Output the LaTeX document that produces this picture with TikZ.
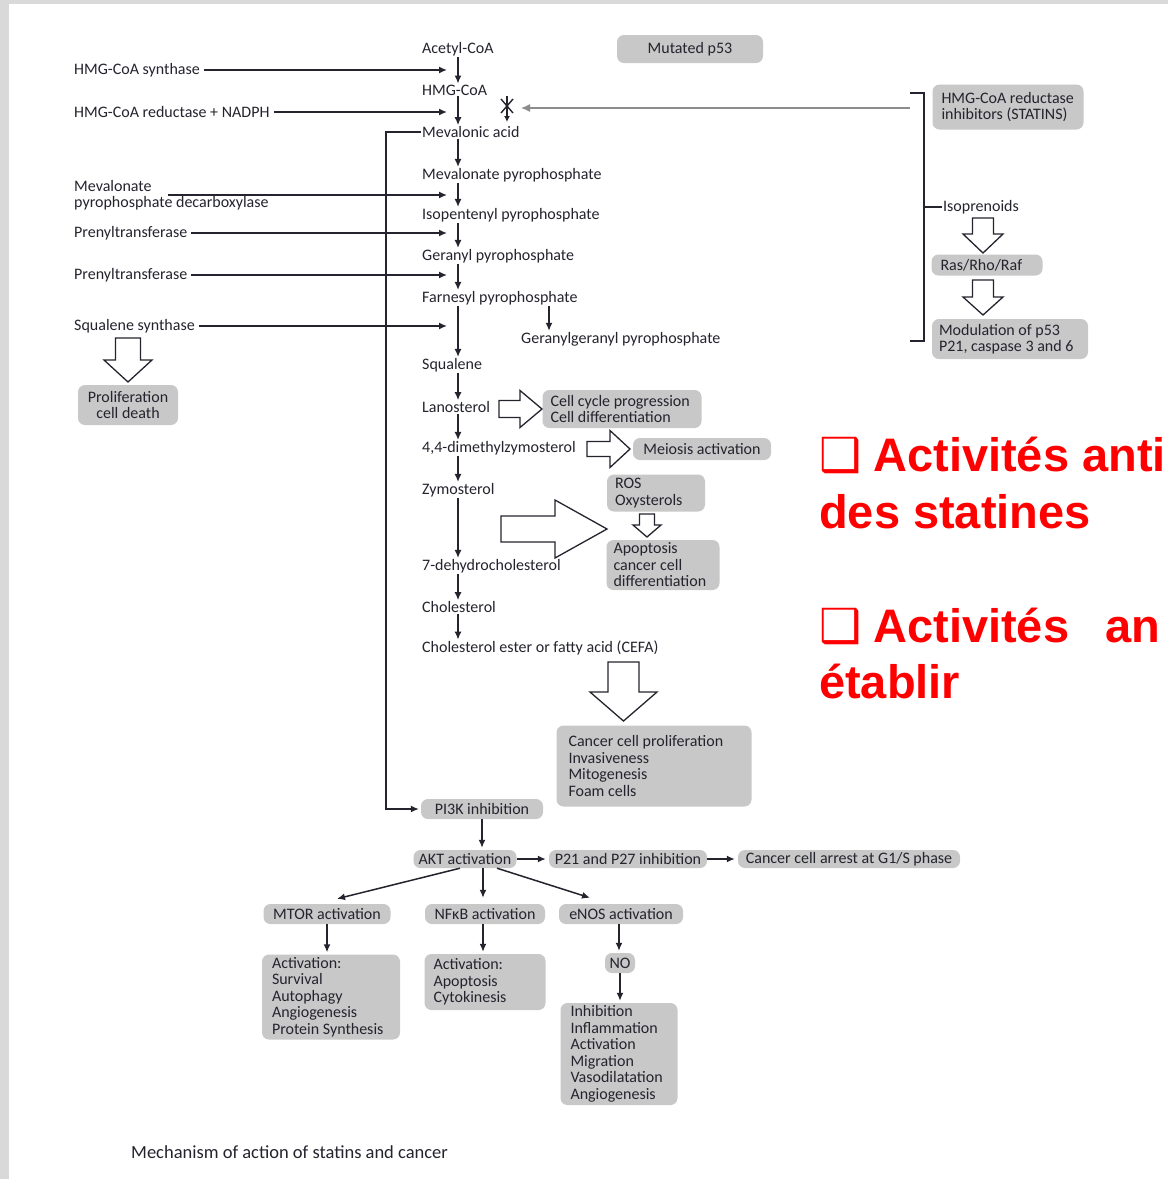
\documentclass[tikz,border=0pt]{standalone}
\usepackage{fontspec}
\setmainfont{Carlito}
\newfontfamily\slidefont{Liberation Sans}
\newfontfamily\symfont{DejaVu Sans}
\usetikzlibrary{arrows.meta}
\definecolor{ink}{HTML}{24242E}
\definecolor{boxgray}{HTML}{C8C8C8}
\definecolor{frame}{HTML}{D9D9D9}
\definecolor{statgray}{HTML}{8C8C8C}
\definecolor{alert}{HTML}{FF0000}
\newcommand{\hollowarrow}[6][0] % [angle]{start}{length}{shaft}{head}{head length}
{
 \draw[hollow,shift={#2},rotate=#1] (0,-#4) -- ({#3-#6},-#4) -- ({#3-#6},-#5)
   -- (#3,0) -- ({#3-#6},#5) -- ({#3-#6},#4) -- (0,#4) -- cycle;
}

\begin{document}
\begin{tikzpicture}[x=1pt,y=-1pt,
  lbl/.style={anchor=west,inner sep=1pt,text=ink,font=\fontsize{16}{16.5}\selectfont},
  gbox/.style={fill=boxgray,rounded corners=7pt,inner xsep=7pt,inner ysep=2pt,text=ink,
    align=flush left,font=\fontsize{16}{16.5}\selectfont},
  arr/.style={draw=ink,line width=1.5pt,-{Latex[length=8pt,width=7pt]}},
  hollow/.style={draw=ink,line width=1.3pt,fill=white},
  slidetext/.style={anchor=base west,inner sep=0pt,text=alert,
    font=\slidefont\bfseries\fontsize{47}{57}\selectfont}]

\useasboundingbox (0,0) rectangle (1168,1179);
\fill[frame] (0,0) rectangle (1168,1179);
\fill[white] (9,4) rectangle (1168,1179);
\clip (0,0) rectangle (1168,1179);

\coordinate (col) at (458,0);
\coordinate (enz) at (447,0);
\coordinate (fb) at (386,0);
\coordinate (ggx) at (549,0);

% pathway
\node[lbl] (acetyl) at (421,49) {Acetyl-CoA};
\node[lbl] (hmgcoa) at (421,90) {HMG-CoA};
\node[lbl] (mevac) at (421,132) {Mevalonic acid};
\node[lbl] (mevpp) at (421,175) {Mevalonate pyrophosphate};
\node[lbl] (ipp) at (421,215) {Isopentenyl pyrophosphate};
\node[lbl] (gpp) at (421,256) {Geranyl pyrophosphate};
\node[lbl] (fpp) at (421,298) {Farnesyl pyrophosphate};
\node[lbl] (ggpp) at (520,339) {Geranylgeranyl pyrophosphate};
\node[lbl] (squalene) at (421,365) {Squalene};
\node[lbl] (lanost) at (421,407) {Lanosterol};
\node[lbl] (dimeth) at (421,448) {4,4-dimethylzymosterol};
\node[lbl] (zymo) at (421,490) {Zymosterol};
\node[lbl] (dehydro) at (421,566) {7-dehydrocholesterol};
\node[lbl] (chol) at (421,607) {Cholesterol};
\node[lbl] (cefa) at (421,648) {Cholesterol ester or fatty acid (CEFA)};

\foreach \a/\b in {acetyl/hmgcoa,hmgcoa/mevac,mevac/mevpp,mevpp/ipp,ipp/gpp,gpp/fpp,
  fpp/squalene,squalene/lanost,lanost/dimeth,dimeth/zymo,zymo/dehydro,dehydro/chol,chol/cefa}
  \draw[arr] (\a.south -| col) -- (\b.north -| col);
\draw[arr] (fpp.south -| ggx) -- (ggpp.north -| ggx);

% enzymes
\node[lbl] (hmgs) at (73,70) {HMG-CoA synthase};
\node[lbl] (hmgr) at (73,112) {HMG-CoA reductase + NADPH};
\node[lbl,align=left] (mpd) at (73,195) {Mevalonate\\pyrophosphate decarboxylase};
\node[lbl] (prenyla) at (73,233) {Prenyltransferase};
\node[lbl] (prenylb) at (73,275) {Prenyltransferase};
\node[lbl] (sqs) at (73,326) {Squalene synthase};

\foreach \e in {hmgs,hmgr,prenyla,prenylb,sqs}
  \draw[arr] ([xshift=3pt]\e.east) -- (\e.east -| enz);
\draw[arr] ([xshift=95pt]mpd.west) -- (mpd.west -| enz);

\node[gbox,align=center,inner xsep=4pt,minimum width=100pt,minimum height=40pt] (prolif) at (128,405) {Proliferation\\cell death};
\hollowarrow[-90]{(128,338)}{44}{12.5}{24}{22}

% statins
\node[gbox,align=center,minimum width=146pt,minimum height=28pt] (p53) at (690,49) {Mutated p53};
\node[gbox,inner xsep=9pt,text width=133pt,minimum height=45pt] (statins) at (1008,107) {HMG-CoA reductase\\inhibitors (STATINS)};
\node[lbl] (isopren) at (942,207) {Isoprenoids};
\node[gbox,inner xsep=9pt,text width=93pt,minimum height=21pt] (ras) at (987,265) {Ras/Rho/Raf};
\node[gbox,text width=142pt,minimum height=40pt] (p53mod) at (1010,339) {Modulation of p53\\P21, caspase 3 and 6};
\hollowarrow[-90]{(983,218)}{35}{10.5}{20}{19}
\hollowarrow[-90]{(983,280)}{35}{10.5}{20}{18}

\coordinate (brk) at (910,108);
\coordinate (block) at (521,108);
\draw[statgray,line width=1.3pt,-{Latex[length=9pt,width=8pt]}] (brk) -- (block);
\draw[ink,line width=1.2pt,-{Latex[length=6pt,width=6pt]}] (507,96) -- (507,122);
\draw[ink,line width=1.4pt] (501,99) -- (513,113) (513,99) -- (501,113);
\draw[ink,line width=1.5pt] (910,93) -- (924,93) -- (924,341) -- (910,341);
\draw[ink,line width=1.5pt] (924,207) -- (isopren.west);

% sterol effects
\node[gbox,inner xsep=8pt,text width=143pt,minimum height=38pt] (cellcyc) at (622,409) {Cell cycle progression\\Cell differentiation};
\hollowarrow{(499,409)}{43}{8.5}{18.5}{22}
\node[gbox,align=center,minimum width=138pt,minimum height=22pt] (meiosis) at (702,449) {Meiosis activation};
\hollowarrow{(587,449)}{43}{7.5}{18.5}{20}
\node[gbox,inner xsep=8pt,text width=82pt,minimum height=37pt] (ros) at (656,493) {ROS\\Oxysterols};
\hollowarrow[-90]{(647,514)}{23}{7.5}{14}{12}
\node[gbox,text width=99pt,minimum height=50pt,inner ysep=1pt] (apopt) at (663,565) {Apoptosis\\cancer cell\\differentiation};
\hollowarrow{(501,529)}{106}{13}{29}{52}
\hollowarrow[-90]{(623.5,662)}{59}{15.5}{33.5}{29}
\node[gbox,inner xsep=12pt,text width=171pt,minimum height=81pt] (cancer) at (654,766) {Cancer cell proliferation\\Invasiveness\\Mitogenesis\\Foam cells};

% PI3K / AKT
\node[gbox,align=center,minimum width=122pt,minimum height=20pt] (pi3k) at (482,809) {PI3K inhibition};
\draw[arr,line width=1.3pt,shorten >=2pt] (mevac.west) -- (mevac.west -| fb) -- (pi3k.west -| fb) -- (pi3k.west);
\node[gbox,align=center,inner xsep=4pt,minimum width=103pt,minimum height=18pt] (akt) at (465,859) {AKT activation};
\node[gbox,align=center,inner xsep=4pt,minimum width=158pt,minimum height=18pt] (p21) at (628,859) {P21 and P27 inhibition};
\node[gbox,align=center,inner xsep=4pt,minimum width=222pt,minimum height=18pt] (arrest) at (849,859) {Cancer cell arrest at G1/S phase};
\draw[arr,shorten >=2pt] (pi3k.south) -- (pi3k.south |- akt.north);
\draw[arr,shorten >=3pt] (akt) -- (p21);
\draw[arr,shorten >=3pt] (p21) -- (arrest);

\node[gbox,align=center,minimum width=127pt,minimum height=20pt] (mtor) at (327,914) {MTOR activation};
\node[gbox,align=center,minimum width=120pt,minimum height=20pt] (nfkb) at (485,914) {NFκB activation};
\node[gbox,align=center,minimum width=124pt,minimum height=20pt] (enos) at (621,914) {eNOS activation};
\draw[arr] ([xshift=-5pt]akt.south) -- ([xshift=10pt,yshift=5pt]mtor.north);
\draw[arr] ([xshift=18pt]akt.south) -- ([xshift=-2pt,yshift=6pt]nfkb.north);
\draw[arr] ([xshift=32pt]akt.south) -- ([xshift=-31pt,yshift=6pt]enos.north);

\node[gbox,inner xsep=10pt,text width=118pt,minimum height=85pt] (mtoract) at (331,997) {Activation:\\Survival\\Autophagy\\Angiogenesis\\Protein Synthesis};
\node[gbox,inner xsep=9pt,text width=103pt,minimum height=56pt] (nfkbact) at (485,982) {Activation:\\Apoptosis\\Cytokinesis};
\node[gbox,align=center,inner xsep=2pt,minimum width=30pt,minimum height=20pt] (no) at (620,963) {NO};
\node[gbox,inner xsep=10pt,text width=97pt,minimum height=102pt] (noact) at (619,1054) {Inhibition\\Inflammation\\Activation\\Migration\\Vasodilatation\\Angiogenesis};
\draw[arr,shorten >=2pt] (mtor.south) -- (mtor.south |- mtoract.north);
\draw[arr,shorten >=2pt] ([xshift=-2pt]nfkb.south) -- ([xshift=-2pt]nfkb.south |- nfkbact.north);
\draw[arr,shorten >=2pt] ([xshift=-2pt]enos.south) -- ([xshift=-2pt]enos.south |- no.north);
\draw[arr,shorten >=2pt] (no.south) -- (no.south |- noact.north);

\node[lbl,font=\fontsize{18.5}{20}\selectfont] (caption) at (130,1152) {Mechanism of action of statins and cancer};

% slide text
\node[slidetext] (anti) at (819,471) {{\symfont ❑}\hspace{12pt}Activités anti};
\node[slidetext] (statines) at (819,528) {des statines};
\node[slidetext] (autres) at (819,642) {{\symfont ❑}\hspace{12pt}Activités\hspace{36pt}an};
\node[slidetext] (etablir) at (819,698) {établir};

\end{tikzpicture}
\end{document}
